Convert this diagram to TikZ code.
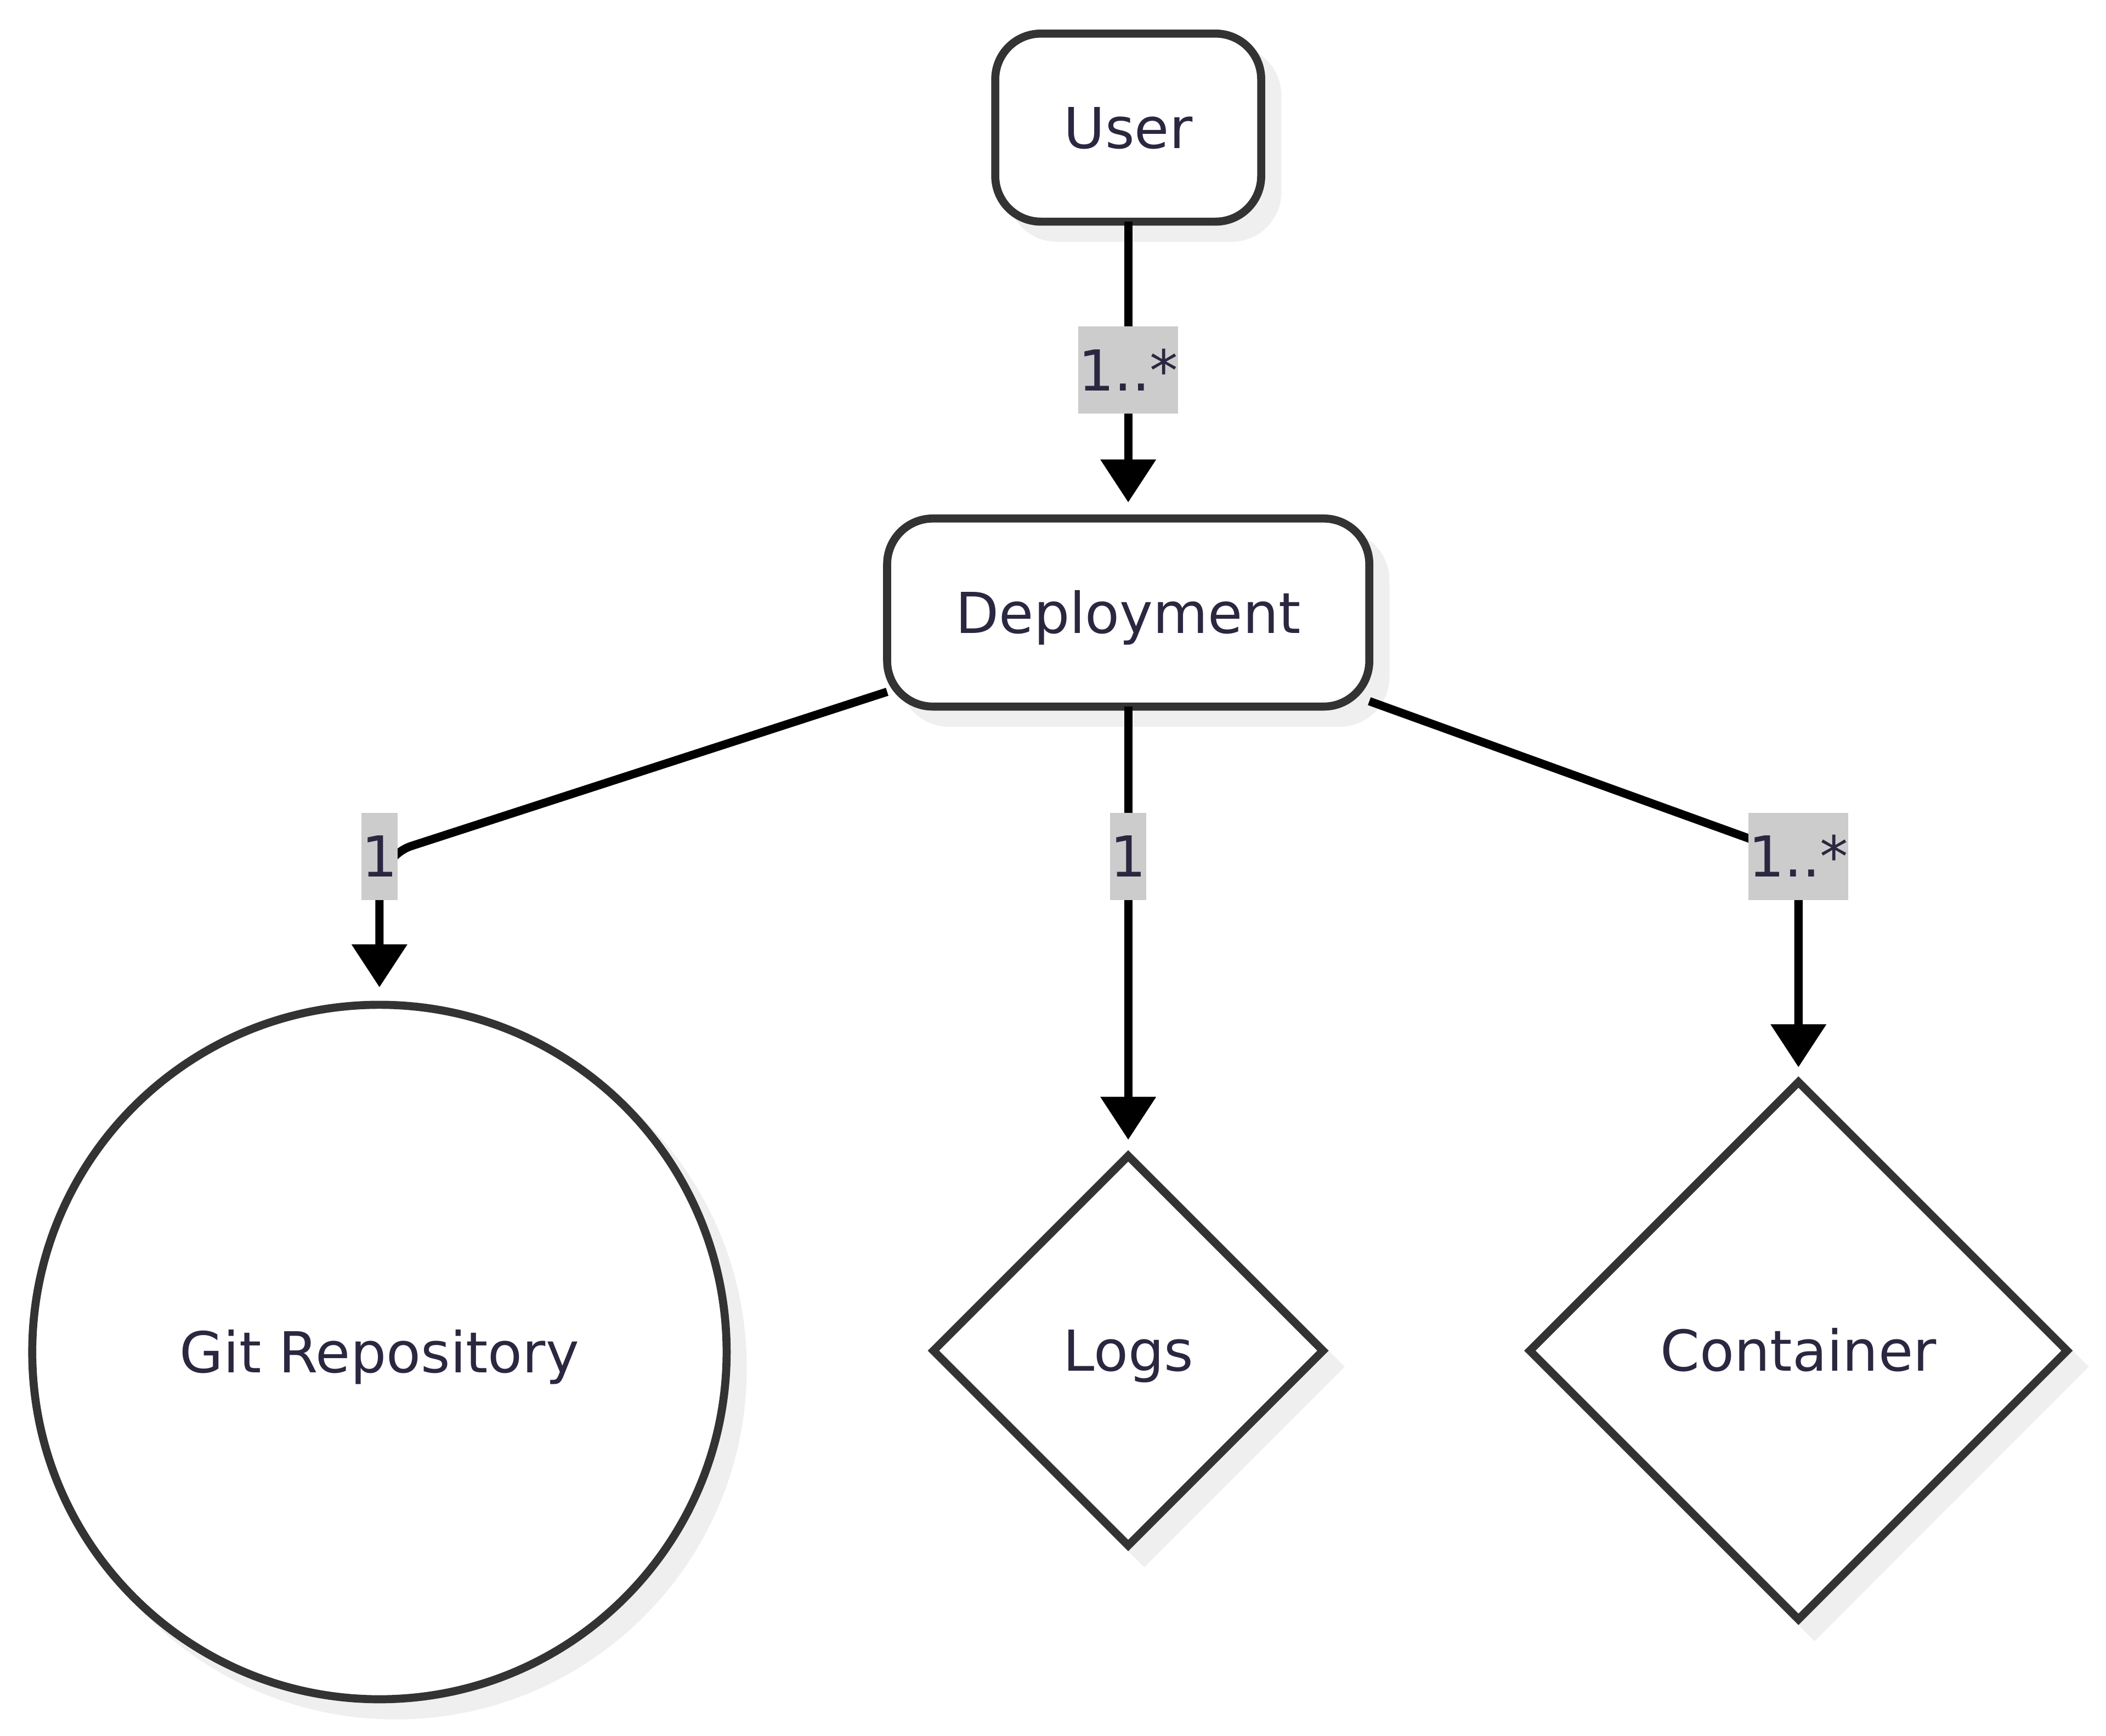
\documentclass[tikz,border=0pt]{standalone}
\usepackage{fontspec}
\setmainfont{DejaVu Sans}
\usetikzlibrary{arrows.meta,shapes.geometric,shadows}
\definecolor{nodeborder}{HTML}{333333}
\definecolor{nodetext}{HTML}{2A2740}
\definecolor{labelbg}{HTML}{CCCCCC}
\definecolor{shadowc}{HTML}{EFEFEF}
\pgfdeclarelayer{fg}
\pgfsetlayers{main,fg}
\begin{document}
\begin{tikzpicture}[x=0.5pt,y=-0.5pt,
  every node/.style={font=\fontsize{21}{25}\selectfont, text=nodetext, inner sep=0pt, outer sep=0pt},
  nodebase/.style={draw=nodeborder, line width=3pt, fill=white, text height=15.3pt, text depth=0pt,
     general shadow={shadow xshift=6pt, shadow yshift=-6pt, fill=shadowc, draw=shadowc, line width=3pt}},
  roundbox/.style={nodebase, rectangle, rounded corners=17pt, minimum height=70pt},
  circ/.style={nodebase, circle},
  dia/.style={nodebase, diamond, aspect=1},
  lab/.style={fill=labelbg, text height=15.3pt, text depth=0pt, minimum height=32.5pt, inner xsep=0pt},
  edge/.style={draw=black, line width=3.1pt, -{Triangle[width=20pt,length=16pt]}},
]
\fill[white] (0,0) rectangle (1568,1292);
\useasboundingbox (0,0) rectangle (1568,1292);

\node[roundbox, minimum width=99pt] (u) at (840,95) {User};
\node[roundbox, minimum width=179.5pt] (d) at (840,456) {Deployment};
\node[circ, minimum size=258.5pt] (g) at (282.5,1006.5) {Git Repository};
\node[dia, minimum width=145pt, minimum height=145pt] (lo) at (840,1005.5) {Logs};
\node[dia, minimum width=200pt, minimum height=200pt] (c) at (1339,1005.5) {Container};

\begin{pgfonlayer}{fg}
\node[lab] (l1) at (840,275.5) {1..*};
\node[lab] (l2) at (282.5,637.5) {1};
\node[lab] (l3) at (840,637.5) {1};
\node[lab] (l4) at (1339,637.5) {1..*};
\end{pgfonlayer}

\draw[edge, shorten >=6pt] (u.south) -- (l1.center) -- (d.north);
\draw[edge, rounded corners=12.5pt, shorten >=6.5pt] ([yshift=5.5pt]d.south west) -- (l2.center) -- (g.north);
\draw[edge, shorten >=6pt] (d.south) -- (l3.center) -- (lo.north);
\draw[edge, rounded corners=12.5pt, shorten >=5.5pt] ([yshift=2pt]d.south east) -- (l4.center) -- (c.north);
\end{tikzpicture}
\end{document}
